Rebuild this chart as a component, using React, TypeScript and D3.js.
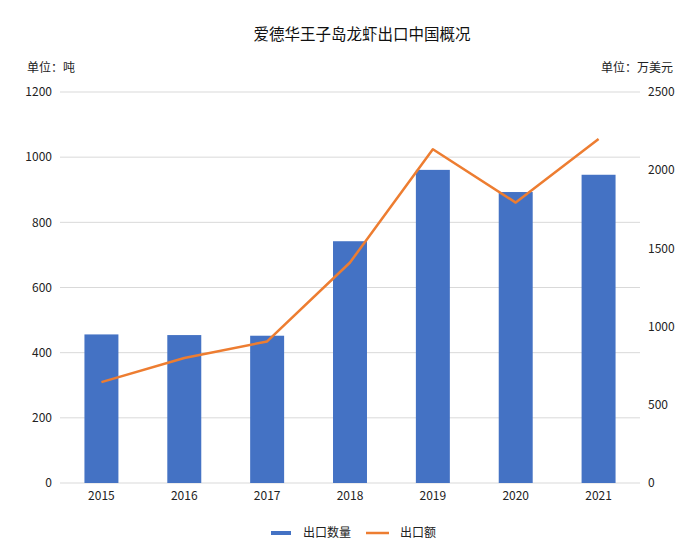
import { useEffect } from "react";
import * as d3 from "d3";

const years = ["2015", "2016", "2017", "2018", "2019", "2020", "2021"];
const exportTons = [456, 454, 452, 742, 961, 893, 946];
const exportValue = [645, 799, 905, 1410, 2134, 1793, 2200];
const leftTicks = [0, 200, 400, 600, 800, 1000, 1200];
const rightTicks = [0, 500, 1000, 1500, 2000, 2500];

const FONT = "'Noto Sans CJK SC', 'Noto Sans', sans-serif";
const BLUE = "#4472C4";
const ORANGE = "#ED7D31";

export default function App() {
  useEffect(() => {
    document.body.style.margin = "0";
  }, []);

  const width = 700;
  const height = 560;
  const margins = { top: 92, right: 60, bottom: 77, left: 60 };
  const boundedWidth = width - margins.left - margins.right;
  const boundedHeight = height - margins.top - margins.bottom;

  const xScale = d3
    .scaleBand()
    .domain(years)
    .range([0, boundedWidth])
    .paddingInner(0.59)
    .paddingOuter(0.295);

  const yLeft = d3.scaleLinear().domain([0, 1200]).range([boundedHeight, 0]);
  const yRight = d3.scaleLinear().domain([0, 2500]).range([boundedHeight, 0]);

  const center = (y: string) => (xScale(y) || 0) + xScale.bandwidth() / 2;

  const lineBuilder = d3
    .line<number>()
    .x((_, i) => center(years[i]))
    .y((d) => yRight(d));
  const linePath = lineBuilder(exportValue) || "";

  return (
    <svg width={width} height={height} style={{ display: "block" }} fontFamily={FONT}>
      <rect width={width} height={height} fill="#fff" />
      <text x={width / 2 + 12} y={40} textAnchor="middle" fontSize={15.5} fill="#111">
        爱德华王子岛龙虾出口中国概况
      </text>
      <text x={27} y={72} fontSize={12} fill="#222">
        单位：吨
      </text>
      <text x={673} y={72} fontSize={12} fill="#222" textAnchor="end">
        单位：万美元
      </text>
      <g transform={`translate(${margins.left},${margins.top})`}>
        {leftTicks.map((t) => (
          <g key={t}>
            <line
              x1={0}
              x2={boundedWidth}
              y1={yLeft(t)}
              y2={yLeft(t)}
              stroke="#d9d9d9"
              strokeWidth={1}
            />
            <text
              x={-8}
              y={yLeft(t)}
              dy="0.35em"
              textAnchor="end"
              fontSize={12}
              fill="#222"
            >
              {t}
            </text>
          </g>
        ))}
        {rightTicks.map((t) => (
          <text
            key={t}
            x={boundedWidth + 8}
            y={yRight(t)}
            dy="0.35em"
            fontSize={12}
            fill="#222"
          >
            {t}
          </text>
        ))}
        {years.map((y, i) => (
          <g key={y}>
            <rect
              x={xScale(y)}
              y={yLeft(exportTons[i])}
              width={xScale.bandwidth()}
              height={boundedHeight - yLeft(exportTons[i])}
              fill={BLUE}
            />
            <text
              x={center(y)}
              y={boundedHeight + 17}
              textAnchor="middle"
              fontSize={12}
              fill="#222"
            >
              {y}
            </text>
          </g>
        ))}
        <path d={linePath} fill="none" stroke={ORANGE} strokeWidth={2.5} strokeLinejoin="round" />
      </g>
      {/* legend */}
      <rect x={271} y={531} width={20} height={4} fill={BLUE} />
      <text x={303} y={537} fontSize={12} fill="#222">
        出口数量
      </text>
      <line x1={366} x2={389} y1={533} y2={533} stroke={ORANGE} strokeWidth={2.5} />
      <text x={400} y={537} fontSize={12} fill="#222">
        出口额
      </text>
    </svg>
  );
}
